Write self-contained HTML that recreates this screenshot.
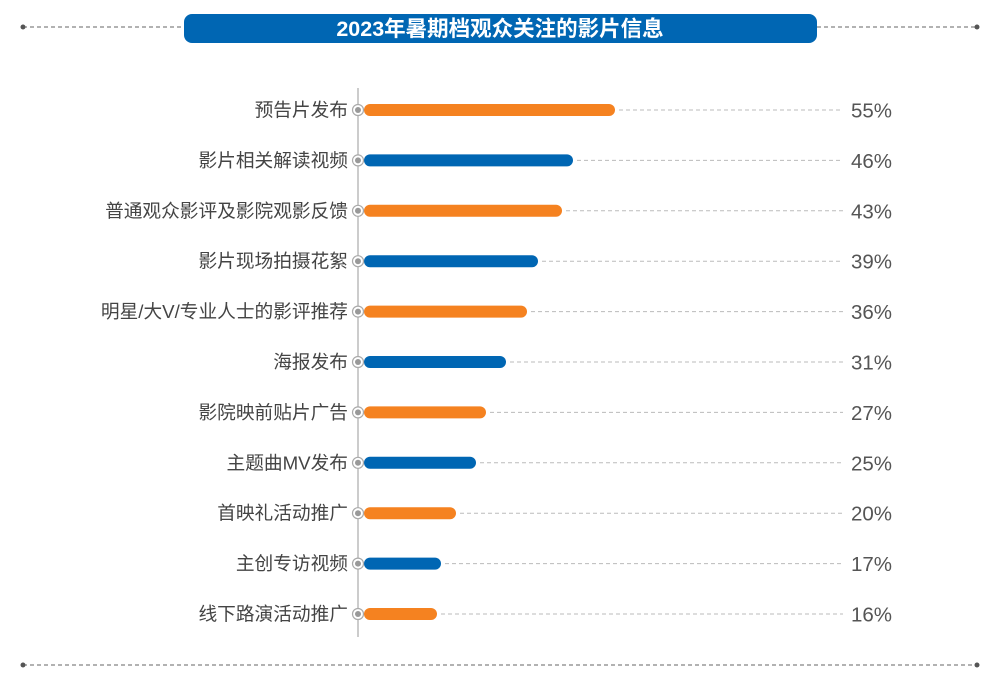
<!DOCTYPE html>
<html><head><meta charset="utf-8"><style>
html,body{margin:0;padding:0;background:#fff;}
svg text{font-family:"Liberation Sans","Noto Sans CJK SC",sans-serif;}
</style></head><body>
<svg width="1000" height="676" viewBox="0 0 1000 676" xmlns="http://www.w3.org/2000/svg">
<line x1="23" y1="27" x2="184" y2="27" stroke="#666" stroke-width="1" stroke-dasharray="4,3"/>
<line x1="817" y1="27" x2="977" y2="27" stroke="#666" stroke-width="1" stroke-dasharray="4,3"/>
<circle cx="23" cy="27" r="2.5" fill="#555"/><circle cx="977" cy="27" r="2.5" fill="#555"/>
<rect x="184" y="14" width="633" height="29" rx="8" fill="#0066b3"/>
<text x="500" y="36" text-anchor="middle" font-size="21.5" font-weight="bold" fill="#fff">2023年暑期档观众关注的影片信息</text>
<line x1="23" y1="665" x2="977" y2="665" stroke="#666" stroke-width="1" stroke-dasharray="4,3"/>
<circle cx="23" cy="665" r="2.5" fill="#555"/><circle cx="977" cy="665" r="2.5" fill="#555"/>
<line x1="358" y1="88" x2="358" y2="637" stroke="#bbb" stroke-width="1.5"/>
<g id="rows"></g>
</svg>
<script>
var d=[["预告片发布",55,615],["影片相关解读视频",46,573],["普通观众影评及影院观影反馈",43,562],["影片现场拍摄花絮",39,538],["明星/大V/专业人士的影评推荐",36,527],["海报发布",31,506],["影院映前贴片广告",27,486],["主题曲MV发布",25,476],["首映礼活动推广",20,456],["主创专访视频",17,441],["线下路演活动推广",16,437]];
var g=document.getElementById("rows"),h="";
d.forEach(function(r,i){var y=110+i*50.4;var c=i%2?"#0066b3":"#f58220";
h+='<line x1="'+(r[2]+4)+'" y1="'+y+'" x2="843" y2="'+y+'" stroke="#bbb" stroke-width="1" stroke-dasharray="4,3"/>';
h+='<line x1="370" y1="'+y+'" x2="'+(r[2]-6)+'" y2="'+y+'" stroke="'+c+'" stroke-width="12" stroke-linecap="round"/>';
h+='<circle cx="358" cy="'+y+'" r="5.5" fill="#fff" stroke="#aaa" stroke-width="1.2"/><circle cx="358" cy="'+y+'" r="3" fill="#999"/>';
h+='<text x="348" y="'+(y+6.5)+'" text-anchor="end" font-size="18.7" fill="#444">'+r[0]+'</text>';
h+='<text x="851" y="'+(y+7.5)+'" font-size="20.5" fill="#555">'+r[1]+'%</text>';});
g.innerHTML=h;
</script>
</body></html>
